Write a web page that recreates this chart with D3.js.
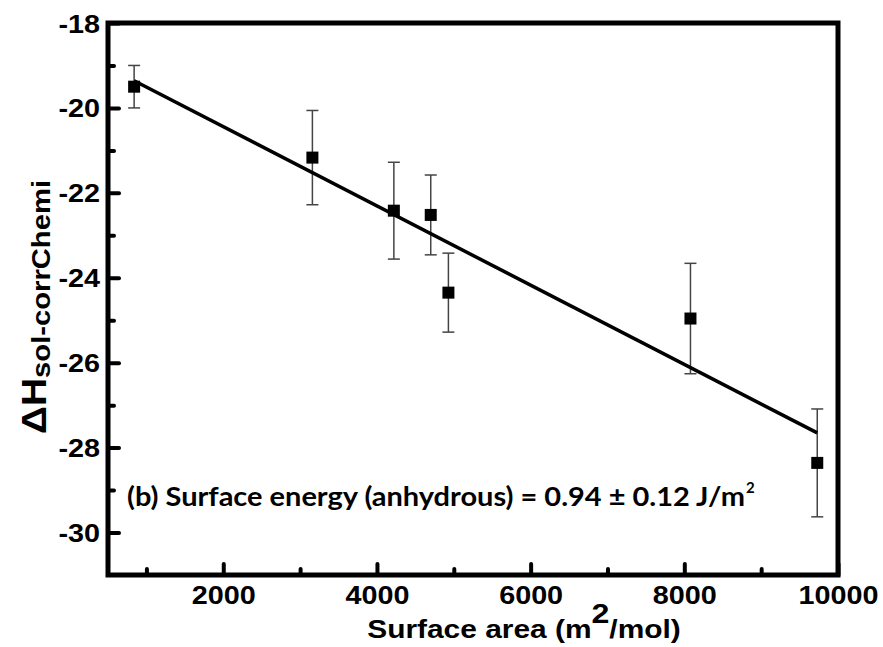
<!DOCTYPE html>
<html>
<head>
<meta charset="utf-8">
<script src="https://cdn.jsdelivr.net/npm/d3@7"></script>
<style>
  html, body { margin: 0; padding: 0; background: #fff; }
  svg { display: block; }
</style>
</head>
<body>
<div id="chart"></div>
<script>
// surface area (m2/mol) and corrected enthalpy of solution, with error bars
const surfaceArea = [840, 3160, 4220, 4700, 4930, 8080, 9730];
const deltaH = [-19.50, -21.17, -22.42, -22.52, -24.35, -24.96, -28.36];
const deltaHErr = [0.50, 1.11, 1.14, 0.94, 0.93, 1.30, 1.27];

// linear fit
const fitSlope = -0.000933;
const fitIntercept = -18.576;

const xMajorTicks = [2000, 4000, 6000, 8000, 10000];
const xMinorTicks = [1000, 3000, 5000, 7000, 9000];
const yMajorTicks = [-18, -20, -22, -24, -26, -28, -30];
const yMinorTicks = [-19, -21, -23, -25, -27, -29];

const width = 883;
const height = 647;
const stretch = 1.15; // the original picture is a bit wider than tall
const axisFont = '"Liberation Sans", Arial, sans-serif';

const svg = d3.select('#chart').append('svg')
    .attr('width', width)
    .attr('height', height);

const x = d3.scaleLinear().domain([500, 10000]).range([108, 838]);
const y = d3.scaleLinear().domain([-31, -18]).range([575, 23]);

function widen(sel) {
    sel.each(function () {
        const len = this.getComputedTextLength();
        d3.select(this)
            .attr('textLength', len * stretch)
            .attr('lengthAdjust', 'spacingAndGlyphs');
    });
}

function styleAxis(g) {
    g.select('.domain').remove();
    g.selectAll('.tick line')
        .attr('stroke', '#000')
        .attr('stroke-width', 4)
        .attr('stroke-linecap', 'round');
    g.selectAll('.tick text')
        .attr('fill', '#000')
        .style('font-family', axisFont)
        .style('font-weight', 'bold')
        .style('font-size', '25px');
}

// plain hyphen for negatives, like the original
const plain = d => String(d);

// minor ticks (no labels)
svg.append('g')
    .attr('transform', 'translate(0,' + y.range()[0] + ')')
    .call(d3.axisBottom(x).tickValues(xMinorTicks).tickSize(-6).tickFormat(''))
    .call(styleAxis);
svg.append('g')
    .attr('transform', 'translate(' + x.range()[0] + ',0)')
    .call(d3.axisLeft(y).tickValues(yMinorTicks).tickSize(-6).tickFormat(''))
    .call(styleAxis);

// major ticks
const xAxis = svg.append('g')
    .attr('transform', 'translate(0,' + y.range()[0] + ')')
    .call(d3.axisBottom(x).tickValues(xMajorTicks).tickSize(-11).tickPadding(11).tickFormat(plain))
    .call(styleAxis);
xAxis.selectAll('.tick text').call(widen);

const yAxis = svg.append('g')
    .attr('transform', 'translate(' + x.range()[0] + ',0)')
    .call(d3.axisLeft(y).tickValues(yMajorTicks).tickSize(-11).tickPadding(8).tickFormat(plain))
    .call(styleAxis);
yAxis.selectAll('.tick text').attr('dy', '0.36em').call(widen);

// frame
svg.append('rect')
    .attr('x', x.range()[0])
    .attr('y', y.range()[1])
    .attr('width', x.range()[1] - x.range()[0])
    .attr('height', y.range()[0] - y.range()[1])
    .attr('fill', 'none')
    .attr('stroke', '#000')
    .attr('stroke-width', 5);

// error bars
const points = surfaceArea.map((s, i) => ({ s: s, h: deltaH[i], e: deltaHErr[i] }));
const capHalf = 6;
const bars = svg.append('g')
    .attr('stroke', '#444')
    .attr('stroke-width', 1.5);
points.forEach(p => {
    const px = x(p.s);
    bars.append('line')
        .attr('x1', px).attr('x2', px)
        .attr('y1', y(p.h + p.e)).attr('y2', y(p.h - p.e));
    [p.h + p.e, p.h - p.e].forEach(v => {
        bars.append('line')
            .attr('x1', px - capHalf).attr('x2', px + capHalf)
            .attr('y1', y(v)).attr('y2', y(v));
    });
});

// fit line
const xFit = d3.extent(surfaceArea);
svg.append('line')
    .attr('x1', x(xFit[0]))
    .attr('y1', y(fitIntercept + fitSlope * xFit[0]))
    .attr('x2', x(xFit[1]))
    .attr('y2', y(fitIntercept + fitSlope * xFit[1]))
    .attr('stroke', '#000')
    .attr('stroke-width', 3.5);

// markers
const markerSize = 12;
svg.append('g')
    .selectAll('rect')
    .data(points)
    .join('rect')
    .attr('x', d => x(d.s) - markerSize / 2)
    .attr('y', d => y(d.h) - markerSize / 2)
    .attr('width', markerSize)
    .attr('height', markerSize)
    .attr('fill', '#000');

// x axis title
const xTitle = svg.append('g')
    .attr('transform', 'translate(524,638) scale(' + stretch + ',1)')
    .append('text')
    .attr('text-anchor', 'middle')
    .style('font-family', axisFont)
    .style('font-weight', 'bold')
    .style('font-size', '26px');
xTitle.append('tspan').text('Surface area (m');
xTitle.append('tspan').attr('dy', -15).style('font-size', '28px').text('2');
xTitle.append('tspan').attr('dy', 15).text('/mol)');

// y axis title
const yTitle = svg.append('g')
    .attr('transform', 'translate(46,307) scale(1.1,1) rotate(-90)')
    .append('text')
    .attr('text-anchor', 'middle')
    .style('font-family', axisFont)
    .style('font-weight', 'bold');
yTitle.append('tspan').style('font-size', '32px').text('ΔH');
yTitle.append('tspan').style('font-size', '24px').attr('dy', 4).text('sol-corrChemi');
yTitle.attr('textLength', 254).attr('lengthAdjust', 'spacingAndGlyphs');

// annotation
const note = svg.append('text')
    .attr('x', 127)
    .attr('y', 506)
    .style('font-family', 'Lato, "Open Sans", sans-serif')
    .style('font-weight', 'bold')
    .style('font-size', '26px')
    .attr('fill', '#000')
    .text('(b) Surface energy (anhydrous) = 0.94 ± 0.12 J/m');
note.attr('textLength', 618).attr('lengthAdjust', 'spacingAndGlyphs');
svg.append('text')
    .attr('x', 746)
    .attr('y', 493)
    .style('font-family', 'Lato, "Open Sans", sans-serif')
    .style('font-weight', 'bold')
    .style('font-size', '15px')
    .attr('fill', '#000')
    .text('2');
</script>
</body>
</html>
